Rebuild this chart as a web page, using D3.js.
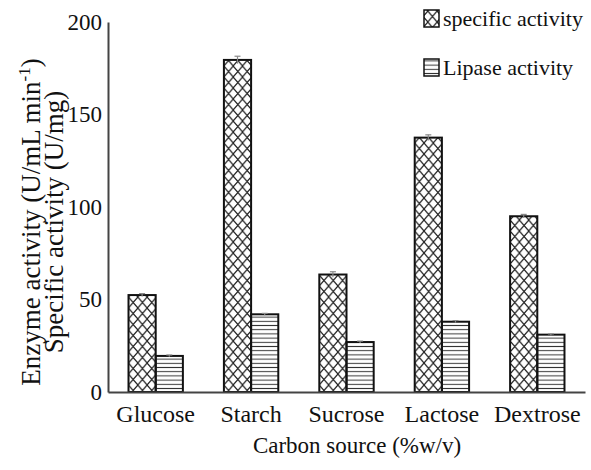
<!DOCTYPE html>
<html>
<head>
<meta charset="utf-8">
<script src="https://cdn.jsdelivr.net/npm/d3@7"></script>
<style>
  body { margin: 0; background: #fff; }
  text { font-family: "Liberation Serif", "Times New Roman", serif; fill: #111; }
</style>
</head>
<body>
<div id="chart"></div>
<script>
// Data

var categories = ["Glucose", "Starch", "Sucrose", "Lactose", "Dextrose"];
var specificActivity = [52.4, 179.5, 63.5, 137.5, 95];
var specificError = [0.8, 2, 1.5, 1.5, 1];
var lipaseActivity = [19.5, 42, 27, 38, 31];
var lipaseError = [0.5, 0.5, 0.5, 0.6, 0.4];
var yTicks = [0, 50, 100, 150, 200];

var width = 591,
    height = 470;

var svg = d3.select("#chart").append("svg")
    .attr("width", width)
    .attr("height", height);

var defs = svg.append("defs");

// crosshatch pattern
var cross = defs.append("pattern")
    .attr("id", "cross")
    .attr("patternUnits", "userSpaceOnUse")
    .attr("width", 9.3)
    .attr("height", 11);
cross.append("path")
    .attr("d", "M0,0L9.3,11M9.3,0L0,11")
    .attr("stroke", "#222")
    .attr("stroke-width", 1.2);

// horizontal lines pattern
var hlines = defs.append("pattern")
    .attr("id", "hlines")
    .attr("patternUnits", "userSpaceOnUse")
    .attr("width", 8)
    .attr("height", 4.2);
hlines.append("path")
    .attr("d", "M0,2.1H8")
    .attr("stroke", "#333")
    .attr("stroke-width", 1);

var x0 = d3.scaleBand()
    .domain(categories)
    .range([108, 585])
    .paddingInner(0.43)
    .paddingOuter(0.215);

var x1 = d3.scaleBand()
    .domain(["specific", "lipase"])
    .range([0, x0.bandwidth()]);

var y = d3.scaleLinear()
    .domain([0, 200])
    .range([392, 22]);

var rows = categories.map(function(c, i) {
    return [
        {cat: c, key: "specific", v: specificActivity[i], e: specificError[i]},
        {cat: c, key: "lipase", v: lipaseActivity[i], e: lipaseError[i]}
    ];
});

var groups = svg.selectAll(".group")
    .data(rows)
  .enter().append("g")
    .attr("class", "group")
    .attr("transform", function(d) { return "translate(" + x0(d[0].cat) + ",0)"; });

groups.selectAll("rect")
    .data(function(d) { return d; })
  .enter().append("rect")
    .attr("x", function(d) { return x1(d.key); })
    .attr("y", function(d) { return y(d.v); })
    .attr("width", x1.bandwidth())
    .attr("height", function(d) { return y(0) - y(d.v); })
    .attr("fill", function(d) { return d.key === "specific" ? "url(#cross)" : "url(#hlines)"; })
    .attr("stroke", "#111")
    .attr("stroke-width", 2);

// error bars
var err = groups.selectAll(".err")
    .data(function(d) { return d; })
  .enter().append("g")
    .attr("class", "err")
    .attr("stroke", "#888")
    .attr("stroke-width", 1.2);

err.append("line")
    .attr("x1", function(d) { return x1(d.key) + x1.bandwidth() / 2; })
    .attr("x2", function(d) { return x1(d.key) + x1.bandwidth() / 2; })
    .attr("y1", function(d) { return y(d.v + d.e); })
    .attr("y2", function(d) { return y(d.v - d.e); });
err.append("line")
    .attr("x1", function(d) { return x1(d.key) + x1.bandwidth() / 2 - 3; })
    .attr("x2", function(d) { return x1(d.key) + x1.bandwidth() / 2 + 3; })
    .attr("y1", function(d) { return y(d.v + d.e); })
    .attr("y2", function(d) { return y(d.v + d.e); });

// axes
var yAxis = svg.append("g")
    .attr("transform", "translate(108,0)")
    .call(d3.axisLeft(y).tickValues(yTicks).tickSize(0).tickPadding(6));
yAxis.select(".domain").attr("stroke", "#444").attr("stroke-width", 2);
yAxis.selectAll("text")
    .style("font-size", "23px")
    .style("font-family", "Liberation Serif");

var xAxis = svg.append("g")
    .attr("transform", "translate(0,392)")
    .call(d3.axisBottom(x0).tickSize(0).tickPadding(13));
xAxis.select(".domain").attr("stroke", "#444").attr("stroke-width", 2);
xAxis.selectAll("text")
    .style("font-size", "24px")
    .style("font-family", "Liberation Serif");

svg.append("text")
    .attr("x", 357)
    .attr("y", 453)
    .attr("text-anchor", "middle")
    .style("font-size", "23px")
    .text("Carbon source (%w/v)");

// y label, two lines
var yl1 = svg.append("text")
    .attr("transform", "translate(40,222) rotate(-90)")
    .attr("text-anchor", "middle")
    .style("font-size", "27px");
yl1.append("tspan").text("Enzyme activity (U/mL min");
yl1.append("tspan").attr("dy", -10).style("font-size", "17px").text("-1");
yl1.append("tspan").attr("dy", 10).text(")");

svg.append("text")
    .attr("transform", "translate(63,222) rotate(-90)")
    .attr("text-anchor", "middle")
    .style("font-size", "27px")
    .text("Specific activity (U/mg)");

// legend
var legendItems = [
    {label: "specific activity", fill: "url(#cross)", y: 9},
    {label: "Lipase activity", fill: "url(#hlines)", y: 58}
];
var legend = svg.selectAll(".legend")
    .data(legendItems)
  .enter().append("g")
    .attr("class", "legend");
legend.append("rect")
    .attr("x", 424)
    .attr("y", function(d) { return d.y + 1; })
    .attr("width", 15)
    .attr("height", 17)
    .attr("fill", function(d) { return d.fill; })
    .attr("stroke", "#111")
    .attr("stroke-width", 1.5);
legend.append("text")
    .attr("x", 443)
    .attr("y", function(d) { return d.y + 17; })
    .style("font-size", "22px")
    .text(function(d) { return d.label; });
</script>
</body>
</html>
